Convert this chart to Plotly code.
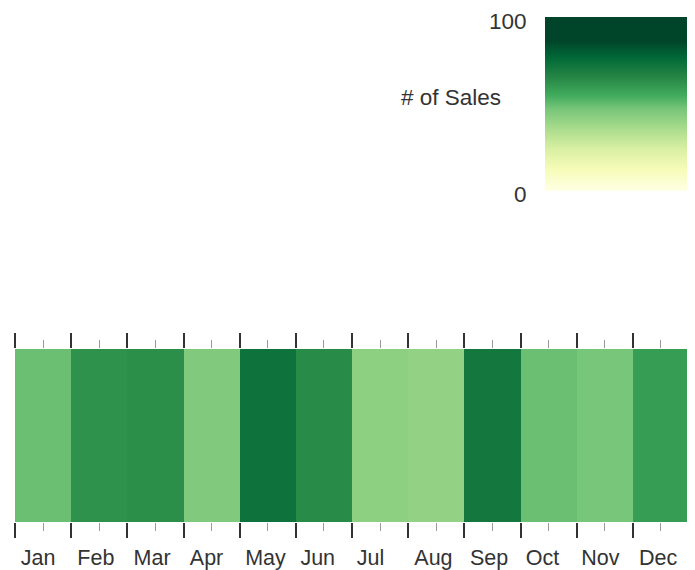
import plotly.graph_objects as go

months = ["Jan", "Feb", "Mar", "Apr", "May", "Jun", "Jul", "Aug", "Sep", "Oct", "Nov", "Dec"]
sales = [49, 62, 63, 45, 73, 64, 42, 41, 71, 49, 47, 59]
month_start = list(range(13))
month_mid = [i + 0.5 for i in range(12)]
# Month labels sit slightly left of the month centres in the reference
label_pos = [0.41, 1.44, 2.44, 3.41, 4.46, 5.39, 6.33, 7.45, 8.44, 9.39, 10.42, 11.45]
legend_ticks = [("100", 21), ("0", 194)]

YLGN = [[0, "#ffffe5"], [0.12, "#f7fcb9"], [0.24, "#d9f0a3"], [0.35, "#addd8e"], [0.47, "#78c679"],
        [0.55, "#41ab5d"], [0.66, "#238443"], [0.77, "#006837"], [0.86, "#004529"], [1, "#004529"]]

# The page adds an 8px body margin, so the figure is 8px smaller and every position is offset by 8.
OFF = 8
W, H = 695 - OFF, 570 - OFF
L, R, T, B = 15 - OFF, 689.5 - OFF, 349 - OFF, 522 - OFF
TICK_FONT = dict(family="Liberation Sans, Arial, sans-serif", size=21.5, color="#333333")
LEG_FONT = dict(family="Liberation Sans, Arial, sans-serif", size=22.5, color="#333333")

fig = go.Figure()
fig.add_trace(go.Heatmap(
    x=month_mid, y=["Sales"], z=[sales], colorscale=YLGN, zmin=0, zmax=100,
    hovertemplate="%{text}: %{z}<extra></extra>", text=[months],
    colorbar=dict(
        title=dict(text=""), showticklabels=False, ticks="", outlinewidth=0, borderwidth=0,
        thicknessmode="pixels", thickness=144, lenmode="pixels", len=174,
        x=(545 - OFF - L) / (R - L), xanchor="left", xref="paper", xpad=0, ypad=0,
        y=(B - (17 - OFF)) / (B - T), yanchor="top", yref="paper"),
))
# Invisible carriers so the top-tick axis and the month-label axis are drawn
fig.add_trace(go.Scatter(x=month_mid, y=[0.5] * 12, xaxis="x2", yaxis="y2", mode="markers",
                         marker=dict(opacity=0), hoverinfo="skip", showlegend=False))
fig.add_trace(go.Scatter(x=month_mid, y=[0.5] * 12, xaxis="x3", yaxis="y2", mode="markers",
                         marker=dict(opacity=0), hoverinfo="skip", showlegend=False))

tick_axis = dict(range=[0, 12], tickmode="array", tickvals=month_start, ticktext=[""] * 13,
                 ticks="outside", ticklen=15, tickwidth=1.5, tickcolor="#333333",
                 showgrid=False, zeroline=False, showline=False,
                 minor=dict(tickmode="array", tickvals=month_mid, ticks="outside", ticklen=8,
                            tickwidth=1, tickcolor="#999999", showgrid=False))

anns = []
for t, py in legend_ticks:
    anns.append(dict(text=t, x=(529 - OFF - L) / (R - L), y=(B - (py - OFF)) / (B - T), xref="paper", yref="paper",
                     xanchor="right", yanchor="middle", showarrow=False, font=LEG_FONT))
anns.append(dict(text="# of Sales", x=(503 - OFF - L) / (R - L), y=(B - (97 - OFF)) / (B - T), xref="paper", yref="paper",
                 xanchor="right", yanchor="middle", showarrow=False, font=LEG_FONT))

fig.update_layout(
    width=W, height=H,
    margin=dict(l=L, r=W - R, t=T, b=H - B, pad=0, autoexpand=False),
    paper_bgcolor="white", plot_bgcolor="white", font=TICK_FONT, showlegend=False,
    xaxis=tick_axis,
    xaxis2=dict(tick_axis, overlaying="x", side="top", anchor="y"),
    xaxis3=dict(range=[0, 12], overlaying="x", side="bottom", anchor="y", tickmode="array",
                tickvals=label_pos, ticktext=months, ticks="outside", ticklen=16,
                tickcolor="rgba(0,0,0,0)", showgrid=False, zeroline=False, showline=False,
                tickfont=TICK_FONT),
    yaxis=dict(showticklabels=False, ticks="", showgrid=False, zeroline=False, showline=False),
    yaxis2=dict(range=[0, 1], overlaying="y", visible=False),
    annotations=anns,
)
fig.write_html("out.html")
